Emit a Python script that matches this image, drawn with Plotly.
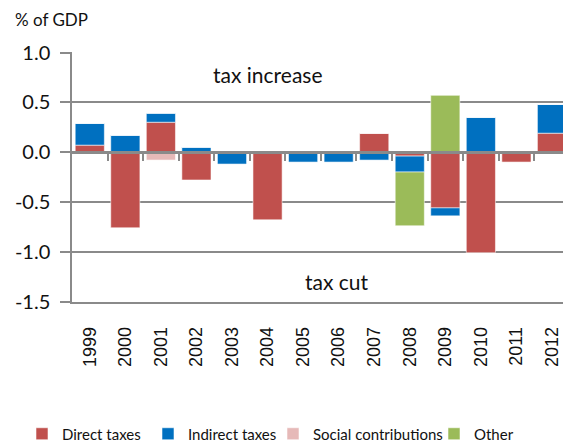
import plotly.graph_objects as go

# Change in tax revenue by type, % of GDP
years = ["1999", "2000", "2001", "2002", "2003", "2004", "2005",
         "2006", "2007", "2008", "2009", "2010", "2011", "2012"]
direct_taxes = [0.07, -0.76, 0.30, -0.28, 0.00, -0.68, 0.00,
                0.00, 0.19, -0.04, -0.56, -1.01, -0.10, 0.19]
indirect_taxes = [0.22, 0.17, 0.09, 0.05, -0.12, 0.00, -0.10,
                  -0.10, -0.08, -0.16, -0.08, 0.35, 0.00, 0.29]
social_contributions = [0.00, 0.00, -0.08, 0.00, 0.00, 0.00, 0.00,
                        0.00, 0.00, 0.00, 0.00, 0.00, 0.00, 0.00]
other = [0.00, 0.00, 0.00, 0.00, 0.00, 0.00, 0.00,
         0.00, 0.00, -0.54, 0.57, 0.00, 0.00, 0.00]

# name, values, colour, legend id, legend left edge (px)
series = [
    ("Direct taxes", direct_taxes, "#C0504D", "legend", 22),
    ("Indirect taxes", indirect_taxes, "#0070C0", "legend2", 148),
    ("Social contributions", social_contributions, "#E6B9B8", "legend3", 273),
    ("Other", other, "#9BBB59", "legend4", 434),
]

GRID = "#8a8a8a"
W, H = 563, 443
PLOT_W, PLOT_H = 491, 250
pos = list(range(len(years)))

fig = go.Figure()
for name, vals, color, leg, _ in series:
    fig.add_trace(go.Bar(
        x=pos, y=vals, name=name, width=0.82, legend=leg, showlegend=True,
        marker=dict(color=color, line=dict(color="rgba(255,255,255,0.55)", width=1)),
    ))

# Carrier for the zero-line axis with category separators
fig.add_trace(go.Scatter(x=[], y=[], xaxis="x2", showlegend=False, hoverinfo="skip"))

legend_style = dict(
    orientation="h", xanchor="left", yanchor="middle",
    xref="container", yref="container",
    y=(H - 434) / H,
    font=dict(family="Lato, sans-serif", size=15, color="#111"),
    bgcolor="rgba(0,0,0,0)",
)
legends = {leg: dict(legend_style, x=left / W) for _, _, _, leg, left in series}

x_range = [-0.5, 13.31]
fig.update_layout(
    width=W, height=H,
    showlegend=True,
    margin=dict(l=72, r=0, t=52, b=141, autoexpand=False),
    paper_bgcolor="white", plot_bgcolor="white",
    barmode="relative", bargap=0.18,
    font=dict(family="Lato, sans-serif", color="#1a1a1a"),
    xaxis=dict(
        range=x_range, tickmode="array", tickvals=pos, ticktext=years,
        tickangle=-90, ticks="", ticklabelstandoff=16,
        tickfont=dict(family="Liberation Sans, Arial, sans-serif", size=18, color="#111"),
        showgrid=False, zeroline=False,
        showline=True, linecolor=GRID, linewidth=1.5,
    ),
    xaxis2=dict(
        overlaying="x", anchor="free", position=1.505 / 2.51, side="bottom",
        range=x_range, tickmode="array", tickvals=[p + 0.5 for p in pos[:-1]],
        ticks="outside", ticklen=7, tickwidth=2, tickcolor=GRID,
        showticklabels=False, showgrid=False, zeroline=False,
        showline=True, linecolor=GRID, linewidth=3, layer="above traces",
    ),
    yaxis=dict(
        range=[-1.505, 1.005], tickmode="array",
        tickvals=[1.0, 0.5, 0.0, -0.5, -1.0, -1.5],
        ticktext=["1.0", "0.5", "0.0", "-0.5", "-1.0", "-1.5"],
        ticks="outside", ticklen=10, tickwidth=1.5, tickcolor=GRID,
        ticklabelstandoff=6,
        tickfont=dict(family="Lato, sans-serif", size=20, color="#111"),
        showgrid=True, gridcolor=GRID, gridwidth=1.5,
        zeroline=False,
        showline=True, linecolor=GRID, linewidth=1.5,
    ),
    annotations=[
        dict(text="% of GDP", xref="paper", yref="paper", x=(13 - 72) / PLOT_W, y=1 + 32 / PLOT_H,
             xanchor="left", yanchor="middle", showarrow=False,
             font=dict(family="Lato, sans-serif", size=17, color="#111")),
        dict(text="tax increase", xref="x", yref="y", x=5.0, y=0.78,
             xanchor="center", yanchor="middle", showarrow=False,
             font=dict(family="Lato, sans-serif", size=21, color="#111")),
        dict(text="tax cut", xref="x", yref="y", x=6.94, y=-1.30,
             xanchor="center", yanchor="middle", showarrow=False,
             font=dict(family="Lato, sans-serif", size=21, color="#111")),
    ],
    **legends,
)

fig.write_html("out.html")
